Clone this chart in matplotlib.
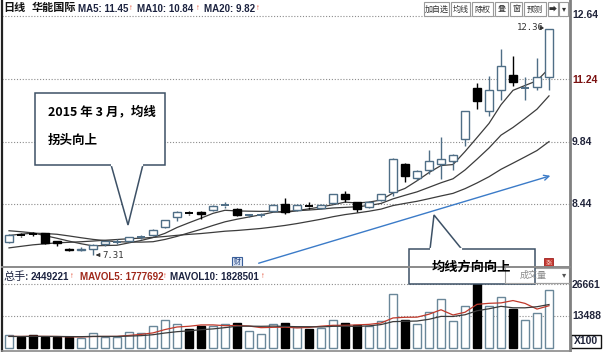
import numpy as np
import matplotlib
matplotlib.use('Agg')
import matplotlib.pyplot as plt
from matplotlib.patches import Rectangle, Polygon

# ---------------- data ----------------
opens = [7.59, 7.76, 7.78, 7.79, 7.61, 7.45, 7.43, 7.44, 7.55, 7.60,
         7.62, 7.70, 7.75, 7.93, 8.15, 8.24, 8.26, 8.31, 8.41, 8.33,
         8.19, 8.19, 8.28, 8.44, 8.31, 8.40, 8.35, 8.46, 8.66, 8.48,
         8.37, 8.53, 8.71, 9.33, 9.02, 9.20, 9.33, 9.40, 9.89, 11.03,
         10.51, 10.98, 11.32, 11.04, 11.05, 11.27]
highs = [7.78, 7.79, 7.82, 7.81, 7.62, 7.47, 7.48, 7.55, 7.63, 7.66,
         7.72, 7.76, 7.88, 8.10, 8.28, 8.29, 8.28, 8.42, 8.50, 8.35,
         8.23, 8.24, 8.44, 8.57, 8.44, 8.50, 8.44, 8.68, 8.73, 8.50,
         8.51, 8.68, 9.48, 9.35, 9.20, 9.66, 9.95, 9.57, 10.53, 11.14,
         11.30, 11.90, 11.74, 11.27, 11.70, 12.36]
lows = [7.57, 7.72, 7.73, 7.55, 7.50, 7.40, 7.40, 7.31, 7.52, 7.56,
        7.60, 7.66, 7.73, 7.91, 8.07, 8.19, 8.12, 8.29, 8.35, 8.17,
        8.15, 8.15, 8.26, 8.22, 8.29, 8.33, 8.33, 8.44, 8.48, 8.26,
        8.35, 8.51, 8.62, 8.93, 8.98, 9.11, 9.00, 9.20, 9.73, 10.56,
        10.40, 10.76, 11.07, 10.76, 11.00, 10.98]
closes = [7.75, 7.74, 7.77, 7.57, 7.58, 7.43, 7.45, 7.53, 7.61, 7.61,
          7.70, 7.71, 7.86, 8.08, 8.26, 8.23, 8.22, 8.40, 8.42, 8.19,
          8.20, 8.20, 8.42, 8.26, 8.42, 8.39, 8.42, 8.66, 8.55, 8.33,
          8.48, 8.66, 9.44, 9.06, 9.18, 9.40, 9.44, 9.55, 10.51, 10.74,
          10.98, 11.52, 11.16, 11.05, 11.27, 12.36]
# closes before the visible window (estimated, for the moving averages)
prior_closes = [7.05, 7.10, 7.12, 7.15, 7.18, 7.20, 7.22, 7.25, 7.28, 7.35,
                7.45, 7.55, 7.65, 7.75, 7.80, 7.85, 7.90, 7.88, 7.87]
# volume in units of 100 shares
volumes = [5350, 4650, 5350, 4650, 4650, 4650, 4400, 6170, 4800, 4800,
           6700, 6450, 9340, 11800, 10150, 8230, 9180, 9470, 10150, 10560,
           7130, 5760, 10150, 10560, 9000, 8100, 8360, 11940, 10560, 9880,
           9180, 11240, 22510, 11940, 10150, 15350, 20500, 11600, 17700, 26661,
           17500, 21400, 16450, 11800, 14750, 24492]
prior_volumes = [4800, 5000, 4700, 4900, 5100, 4800, 5000, 4900, 4800]

price_ticks = [12.64, 11.24, 9.84, 8.44]
vol_ticks = [26661, 13488]

# ---------------- figure ----------------
W, H = 607, 352
fig = plt.figure(figsize=(W / 100, H / 100), dpi=100)
fig.patch.set_facecolor('white')

def rect(x0, y0, x1, y1):
    return [x0 / W, 1 - y1 / H, (x1 - x0) / W, (y1 - y0) / H]

ax = fig.add_axes(rect(2, 0, 570, 267))
axv = fig.add_axes(rect(2, 267, 570, 350))
for a in (ax, axv):
    a.set_axis_off()
    a.set_xlim(-0.583, 46.75)
ax.set_ylim(7.041, 12.997)
axv.set_ylim(-732, 33979)

UP = '#4f6e86'
VUP = '#6a8799'
DN = '#000000'
bw = 0.67
n = len(closes)
x = np.arange(n)

for v in price_ticks:
    ax.axhline(v, color='#8c8c8c', lw=0.8, ls=(0, (1, 1.6)), zorder=1)
for v in vol_ticks:
    axv.axhline(v, color='#8c8c8c', lw=0.8, ls=(0, (1, 1.6)), zorder=1)

# moving averages
allc = np.array(prior_closes + closes)
def ma(arr, k, nshow):
    out = np.convolve(arr, np.ones(k) / k, mode='valid')
    return out[-nshow:]
for k in (5, 10, 20):
    ax.plot(x, ma(allc, k, n), color='#3c3c3c', lw=0.9, zorder=2)

# candles
for i in range(n):
    o, h, l, c = opens[i], highs[i], lows[i], closes[i]
    up = c >= o
    col = UP if up else DN
    top, bot = max(o, c), min(o, c)
    ax.vlines(i, l, bot, color=col, lw=1, zorder=3)
    ax.vlines(i, top, h, color=col, lw=1, zorder=3)
    if top - bot < 0.02:
        ax.hlines((o + c) / 2, i - bw / 2, i + bw / 2, color=col, lw=1.4, zorder=4)
    else:
        ax.add_patch(Rectangle((i - bw / 2, bot), bw, top - bot,
                               facecolor='white' if up else 'black',
                               edgecolor=col, lw=1, zorder=4))

# volume bars
for i in range(n):
    up = closes[i] >= opens[i]
    axv.add_patch(Rectangle((i - bw / 2, 0), bw, volumes[i],
                            facecolor='white' if up else 'black',
                            edgecolor=VUP if up else DN, lw=1, zorder=3))
allv = np.array(prior_volumes + volumes, dtype=float)
axv.plot(x, ma(allv, 5, n), color='#c0392b', lw=0.9, zorder=5)
axv.plot(x, ma(allv, 10, n), color='#3a3a3a', lw=0.9, zorder=5)

# ---------------- overlay (pixel coordinates) ----------------
ov = fig.add_axes([0, 0, 1, 1], zorder=10)
ov.set_xlim(0, W)
ov.set_ylim(H, 0)
ov.set_axis_off()
ov.patch.set_alpha(0)

CJK = ['Noto Sans CJK SC', 'DejaVu Sans']
NUM = ['Liberation Sans', 'DejaVu Sans']

# frame lines
ov.plot([1.5, 1.5], [0, 352], color='#222222', lw=1.6)
ov.plot([570, 570], [0, 352], color='#808080', lw=2)
ov.plot([2, 570], [267, 267], color='#8a8a8a', lw=1.4)
ov.plot([2, 570], [350.5, 350.5], color='#8a8a8a', lw=1.2)

# header texts
ov.text(3, 8, '日线', fontsize=8, family=CJK, weight='bold', va='center', color='#111111')
ov.text(32, 8, '华能国际', fontsize=8, family=CJK, weight='bold', va='center', color='#111111')
hdr = [(78, 'MA5: 11.45', 129), (137, 'MA10: 10.84', 196), (204, 'MA20: 9.82', 256)]
for xx, s, ax_ in hdr:
    ov.text(xx, 8.5, s, fontsize=7, family=NUM, weight='bold', va='center', color='#1c2340')
    ov.text(ax_, 8, '↑', fontsize=5.5, family=NUM, weight='bold', va='center', color='#e03a1c')

ov.text(3, 277, '总手:', fontsize=8, family=CJK, va='center', color='#1c2340')
ov.text(31, 277.5, '2449221', fontsize=7, family=NUM, weight='bold', va='center', color='#1c2340')
ov.text(70, 277, '↑', fontsize=5.5, family=NUM, weight='bold', va='center', color='#e03a1c')
ov.text(80, 277.5, 'MAVOL5: 1777692', fontsize=7, family=NUM, weight='bold', va='center', color='#a0281a')
ov.text(163, 277, '↑', fontsize=5.5, family=NUM, weight='bold', va='center', color='#e03a1c')
ov.text(170, 277.5, 'MAVOL10: 1828501', fontsize=7, family=NUM, weight='bold', va='center', color='#1c2340')
ov.text(261, 277, '↑', fontsize=5.5, family=NUM, weight='bold', va='center', color='#e03a1c')

# right axis labels
ypos = {12.64: 15.5, 11.24: 80, 9.84: 142.3, 8.44: 204.3}
for v in price_ticks:
    ov.text(572, ypos[v], f'{v:.2f}', fontsize=7.5, family=NUM, weight='bold', va='center',
            color='#7a1010' if v == 11.24 else '#20243a')
for v, yy in zip(vol_ticks, (284.5, 316)):
    ov.text(572, yy, str(v), fontsize=7.5, family=NUM, weight='bold', va='center', color='#20243a')
ov.add_patch(Rectangle((571, 335), 30, 13, facecolor='white', edgecolor='#111111', lw=1))
ov.text(586, 341.5, 'X100', fontsize=7.5, family=NUM, weight='bold', va='center', ha='center', color='#20243a')

# toolbar buttons
buttons = [('加自选', 424, 449), ('均线', 451, 470), ('除权', 472, 493), ('叠', 495, 508),
           ('窗', 510, 522), ('预测', 524, 546), ('➡', 548, 558), ('▾', 559, 568)]
for s, x0, x1 in buttons:
    ov.add_patch(Rectangle((x0, 2), x1 - x0, 14, facecolor='white', edgecolor='#9a9a9a', lw=0.8))
    ov.text((x0 + x1) / 2, 9, s, fontsize=5.8, family=CJK, ha='center', va='center', color='#333333')

# high / low markers
ov.text(517, 28, '12.36', fontsize=6.5, family=['DejaVu Sans Mono'], va='center', color='#333333')
ov.annotate('', xy=(547, 28), xytext=(538, 28),
            arrowprops=dict(arrowstyle='-|>', color='#333333', lw=0.8, mutation_scale=5))
ov.text(102, 255.5, '7.31', fontsize=6.5, family=['DejaVu Sans Mono'], va='center', color='#333333')
ov.annotate('', xy=(93, 255), xytext=(101, 255),
            arrowprops=dict(arrowstyle='-|>', color='#333333', lw=0.8, mutation_scale=5))

# small icons
ov.add_patch(Rectangle((232, 257), 10, 10, facecolor='#dbe5f3', edgecolor='#3a5f9a', lw=0.8))
ov.text(237, 262, '财', fontsize=5, family=CJK, ha='center', va='center', color='#1f3f80')
ov.add_patch(Rectangle((544, 258), 9, 9, facecolor='#c43a32', edgecolor='#a02020', lw=0.6))
ov.text(548.5, 262.5, '涨', fontsize=4.5, family=CJK, ha='center', va='center', color='#f4d0c8')

# blue trend arrow
ov.annotate('', xy=(553, 175), xytext=(256, 264),
            arrowprops=dict(arrowstyle='->', color='#3b7bc8', lw=1.0, mutation_scale=9))

# volume dropdown
ov.add_patch(Rectangle((505, 267.5), 64, 15, facecolor='none', edgecolor='#a0a0a0', lw=0.8))
ov.text(564, 275, '▾', fontsize=6, family=['DejaVu Sans'], ha='center', va='center', color='#555555')

# callouts
EC = '#3d5166'
ov.add_patch(Rectangle((35, 93), 130, 72, facecolor='white', edgecolor=EC, lw=1.1))
ov.add_patch(Polygon([(111, 164.5), (128, 225), (143, 164.5)], closed=False,
                     facecolor='white', edgecolor=EC, lw=1.1))
ov.plot([112, 142], [165, 165], color='white', lw=1.6)
ov.text(48, 112, '2015 年 3 月，均线', fontsize=9, family=CJK, weight='bold', va='center', color='#000000')
ov.text(48, 140, '拐头向上', fontsize=9, family=CJK, weight='bold', va='center', color='#000000')

ov.add_patch(Rectangle((409, 249), 126, 35, facecolor='white', edgecolor=EC, lw=1.1))
ov.add_patch(Polygon([(430, 249.5), (434, 215), (462, 249.5)], closed=False,
                     facecolor='white', edgecolor=EC, lw=1.1))
ov.plot([431, 461], [249, 249], color='white', lw=1.6)
ov.text(471, 267, '均线方向向上', fontsize=9.5, family=CJK, weight='bold', ha='center', va='center', color='#000000')
# dropdown outline and label drawn over callout
ov.plot([505, 505], [267.5, 282.5], color='#a0a0a0', lw=0.8)
ov.plot([505, 569], [282.5, 282.5], color='#a0a0a0', lw=0.8)
ov.text(533, 275, '成交量', fontsize=6.5, family=CJK, ha='center', va='center', color='#8a8a8a')

fig.savefig('out.png', dpi=100, facecolor='white')
